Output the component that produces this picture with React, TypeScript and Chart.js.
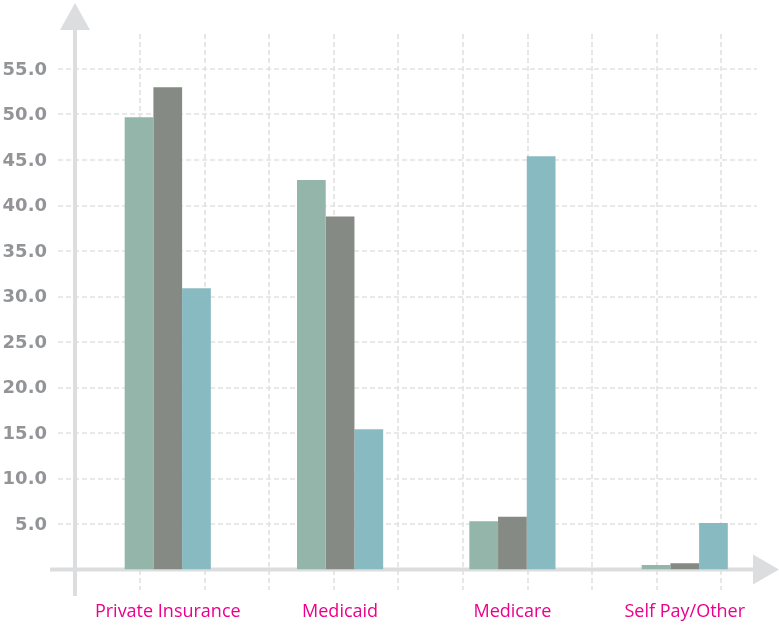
import React, { useEffect, useRef } from "react";
import { Chart, registerables } from "chart.js";

Chart.register(...registerables);

const categories = ["Private Insurance", "Medicaid", "Medicare", "Self Pay/Other"];
const seriesNames = ["Series 1", "Series 2", "Series 3"];
const series1 = [49.7, 42.8, 5.3, 0.5];
const series2 = [53.0, 38.8, 5.8, 0.7];
const series3 = [30.9, 15.4, 45.4, 5.1];
const yTickValues = [5, 10, 15, 20, 25, 30, 35, 40, 45, 50, 55];
const yTickLabels = ["5.0", "10.0", "15.0", "20.0", "25.0", "30.0", "35.0", "40.0", "45.0", "50.0", "55.0"];

const COLORS = ["#94b5aa", "#858a84", "#88bbc1"];
const AXIS_COLOR = "#dcdddf";
const GRID_COLOR = "#e2e2e2";

const decorPlugin = {
  id: "decor",
  beforeDatasetsDraw(chart: any) {
    const ctx = chart.ctx;
    const ys = chart.scales.y;
    const xs = chart.scales.x;
    ctx.save();
    // dashed grid
    ctx.strokeStyle = GRID_COLOR;
    ctx.lineWidth = 1.6;
    ctx.setLineDash([5, 3]);
    yTickValues.forEach((v) => {
      const py = Math.round(ys.getPixelForValue(v));
      ctx.beginPath();
      ctx.moveTo(58, py);
      ctx.lineTo(757, py);
      ctx.stroke();
    });
    for (let k = 0; k < 10; k++) {
      const px = Math.round(140 + k * 64.6);
      ctx.beginPath();
      ctx.moveTo(px, 34);
      ctx.lineTo(px, 590);
      ctx.stroke();
    }
    ctx.setLineDash([]);
    // axes
    ctx.fillStyle = AXIS_COLOR;
    ctx.fillRect(73, 28, 4, 596 - 28);
    ctx.beginPath();
    ctx.moveTo(75, 3);
    ctx.lineTo(60, 30);
    ctx.lineTo(90, 30);
    ctx.closePath();
    ctx.fill();
    const y0 = ys.getPixelForValue(0);
    ctx.fillRect(50, y0 - 2, 753 - 50, 4);
    ctx.beginPath();
    ctx.moveTo(779, y0);
    ctx.lineTo(753, y0 - 15);
    ctx.lineTo(753, y0 + 15);
    ctx.closePath();
    ctx.fill();
    // y labels
    ctx.font = "bold 18px 'DejaVu Sans'";
    ctx.fillStyle = "#929497";
    ctx.textAlign = "right";
    ctx.textBaseline = "middle";
    yTickValues.forEach((v, i) => {
      ctx.fillText(yTickLabels[i], 47, ys.getPixelForValue(v) + 1);
    });
    // x labels
    ctx.font = "18px 'Open Sans'";
    ctx.fillStyle = "#ec008c";
    ctx.textAlign = "center";
    ctx.textBaseline = "alphabetic";
    categories.forEach((c, i) => {
      ctx.fillText(c, xs.getPixelForValue(i), 617);
    });
    ctx.restore();
  },
};

export default function App() {
  const ref = useRef<HTMLCanvasElement | null>(null);
  useEffect(() => {
    if (!ref.current) return;
    const chart = new Chart(ref.current, {
      type: "bar",
      data: {
        labels: categories,
        datasets: [series1, series2, series3].map((d, i) => ({
          label: seriesNames[i],
          data: d,
          backgroundColor: COLORS[i],
          borderWidth: 0,
          barPercentage: 1,
          categoryPercentage: 0.5,
        })),
      },
      options: {
        responsive: false,
        maintainAspectRatio: false,
        animation: false,
        devicePixelRatio: 1,
        layout: { padding: { left: 81.6, right: 8.1, top: 23.5, bottom: 56.5 } },
        plugins: { legend: { display: false }, tooltip: { enabled: false } },
        scales: {
          x: { display: false },
          y: { display: false, min: 0, max: 60 },
        },
      },
      plugins: [decorPlugin],
    });
    return () => chart.destroy();
  }, []);
  return (
    <div style={{ position: "fixed", left: 0, top: 0, width: 779, height: 626, background: "#fff" }}>
      <canvas ref={ref} width={779} height={626} style={{ display: "block" }} />
    </div>
  );
}
